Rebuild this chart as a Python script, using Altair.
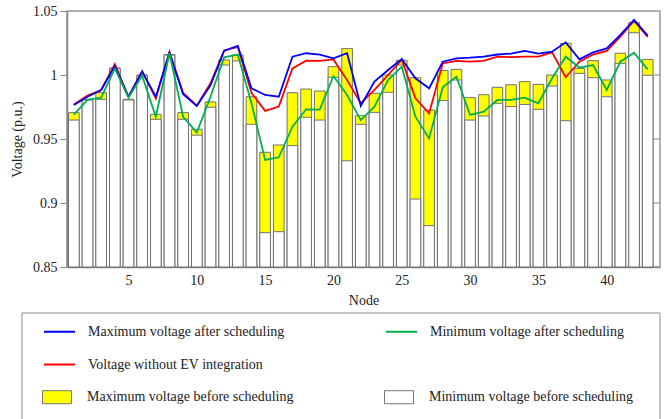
import altair as alt
import pandas as pd

nodes = list(range(1, 44))

max_before = [0.9706, 0.981, 0.9862, 1.0055, 0.981, 1.0, 0.9693, 1.016, 0.9706, 0.9576,
              0.979, 1.0117, 1.0156, 0.983, 0.9396, 0.9453, 0.9862, 0.989, 0.9875, 1.0065,
              1.0206, 0.9682, 0.9857, 1.0, 1.0115, 0.9979, 0.9727, 1.0036, 1.0044, 0.9823,
              0.9846, 0.9904, 0.9924, 0.9948, 0.9927, 1.0, 1.0247, 1.0052, 1.0112, 0.9961,
              1.017, 1.0409, 1.0122]
min_before = [0.9648, 0.9805, 0.981, 1.005, 0.9805, 0.9995, 0.9654, 1.0156, 0.9654, 0.953,
              0.9748, 1.0078, 1.011, 0.9615, 0.8768, 0.8776, 0.9448, 0.967, 0.9648, 0.9982,
              0.933, 0.9615, 0.9708, 0.9865, 1.0078, 0.9031, 0.8823, 0.980, 0.9961, 0.9648,
              0.968, 0.9779, 0.9753, 0.977, 0.9732, 0.9914, 0.9643, 1.0013, 0.9979, 0.983,
              1.0091, 1.033, 0.9998]
max_after = [0.9766, 0.983, 0.9883, 1.007, 0.983, 1.0026, 0.983, 1.0174, 0.985, 0.9758,
             0.992, 1.019, 1.0227, 0.9896, 0.9844, 0.983, 1.0143, 1.017, 1.016, 1.013,
             1.017, 0.9758, 0.9948, 1.0039, 1.0125, 0.9974, 0.9896, 1.0104, 1.013, 1.0135,
             1.0143, 1.016, 1.0167, 1.0188, 1.0167, 1.0182, 1.0255, 1.0122, 1.0177, 1.0208,
             1.0313, 1.043, 1.0307]
no_ev = [0.977, 0.984, 0.9883, 1.0086, 0.983, 1.003, 0.9816, 1.018, 0.986, 0.976,
         0.9935, 1.019, 1.022, 0.986, 0.972, 0.9753, 1.0052, 1.0112, 1.011, 1.0122,
         0.996, 0.9779, 0.9883, 1.0, 1.012, 0.9818, 0.970, 1.009, 1.011, 1.0104,
         1.011, 1.0143, 1.014, 1.0143, 1.0143, 1.0177, 0.9982, 1.0104, 1.016, 1.0188,
         1.030, 1.0425, 1.0297]
min_after = [0.969, 0.9805, 0.9823, 1.005, 0.9823, 0.9995, 0.9674, 1.017, 0.9674, 0.955,
             0.983, 1.0138, 1.016, 0.978, 0.9336, 0.9357, 0.9596, 0.9732, 0.973, 0.9992,
             0.9844, 0.9648, 0.9753, 0.9961, 1.0065, 0.9674, 0.9505, 0.9904, 0.9987, 0.9688,
             0.9714, 0.9805, 0.9805, 0.9823, 0.9779, 0.9974, 1.0143, 1.0057, 1.0078, 0.9883,
             1.0104, 1.0174, 1.0044]

y_ticks = [0.85, 0.9, 0.95, 1.0, 1.05]
right_ticks = [0.9, 0.95, 1.0]
x_ticks = [5, 10, 15, 20, 25, 30, 35, 40]

line_names = ["Maximum voltage after scheduling", "Minimum voltage after scheduling",
              "Voltage without EV integration"]
line_colors = ["#0000ff", "#00b050", "#ff0000"]
bar_names = ["Maximum voltage before scheduling", "Minimum voltage before scheduling"]
bar_fills = ["#ffff00", "#ffffff"]

W, H = 593, 256
FONT = "Liberation Serif"

bars = pd.DataFrame({
    "node": nodes * 2,
    "value": max_before + min_before,
    "series": [bar_names[0]] * len(nodes) + [bar_names[1]] * len(nodes),
})
lines = pd.DataFrame({
    "node": nodes * 3,
    "value": max_after + min_after + no_ev,
    "series": [line_names[0]] * len(nodes) + [line_names[1]] * len(nodes) + [line_names[2]] * len(nodes),
})

x_scale = alt.Scale(domain=[0.5, 43.9], nice=False, zero=False)
y_scale = alt.Scale(domain=[0.85, 1.05], nice=False, zero=False)

axis_common = dict(labelFont=FONT, labelFontSize=14, labelColor="#222222",
                   titleFont=FONT, titleFontSize=14, titleFontWeight="normal",
                   titleColor="#222222", grid=False)
x_axis = alt.Axis(values=x_ticks, ticks=False, labelPadding=6,
                  titleY=33, titleBaseline="middle", **axis_common)
y_axis = alt.Axis(values=y_ticks, format="~g", tickSize=7, labelPadding=3,
                  titleX=-50, titleY=H / 2, titleAlign="center", titleBaseline="middle",
                  **axis_common)

legend_common = dict(title=None, orient="none", columns=2, direction="horizontal", padding=0,
                     labelFont=FONT, labelFontSize=14, labelColor="#222222", labelLimit=400)
line_legend = alt.Legend(legendX=-24, legendY=304, columnPadding=97, rowPadding=9,
                         symbolType="stroke", symbolSize=961, symbolStrokeWidth=2,
                         labelOffset=12, **legend_common)
bar_legend = alt.Legend(legendX=-25, legendY=371, columnPadding=88,
                        symbolType="M-1,-0.45L1,-0.45L1,0.45L-1,0.45Z",
                        symbolSize=841, symbolStrokeColor="#777777", symbolStrokeWidth=1,
                        symbolOpacity=1, labelOffset=15, **legend_common)

X_TITLE = "Node"
Y_TITLE = "Voltage (p.u.)"

box = alt.Chart(pd.DataFrame({"k": [0]})).mark_rect(
    fill="transparent", stroke="#8a8a8a", strokeWidth=1
).encode(x=alt.value(-45), x2=alt.value(W), y=alt.value(302), y2=alt.value(440))

bar_layer = alt.Chart(bars).transform_calculate(
    x0="datum.node - 0.39", x1="datum.node + 0.39"
).mark_bar(stroke="#707070", strokeWidth=1, opacity=1).encode(
    x=alt.X("x0:Q", scale=x_scale, axis=x_axis, title=X_TITLE),
    x2="x1:Q",
    y=alt.Y("value:Q", scale=y_scale, axis=y_axis, title=Y_TITLE),
    y2=alt.datum(0.85),
    fill=alt.Fill("series:N", scale=alt.Scale(domain=bar_names, range=bar_fills), legend=bar_legend),
)


def line_layer(name):
    return alt.Chart(lines).transform_filter(alt.datum.series == name).mark_line(
        strokeWidth=1.8
    ).encode(
        x=alt.X("node:Q", scale=x_scale, axis=x_axis, title=X_TITLE),
        y=alt.Y("value:Q", scale=y_scale, axis=y_axis, title=Y_TITLE),
        color=alt.Color("series:N", scale=alt.Scale(domain=line_names, range=line_colors),
                        legend=line_legend),
    )


rticks = alt.Chart(pd.DataFrame({"v": right_ticks})).mark_rule(color="#888888").encode(
    y=alt.Y("v:Q", scale=y_scale, axis=y_axis, title=Y_TITLE),
    x=alt.value(W - 6), x2=alt.value(W),
)

chart = alt.layer(
    box, bar_layer, line_layer(line_names[2]), line_layer(line_names[0]),
    line_layer(line_names[1]), rticks
).properties(
    width=W, height=H,
    padding={"left": 67, "top": 11, "right": 9, "bottom": 152},
    autosize=alt.AutoSizeParams(type="none"),
).configure(font=FONT, background="white").configure_view(
    stroke="#999999", strokeWidth=1.5
).configure_axis(
    domainColor="#888888", tickColor="#888888", domainWidth=1.5
)

chart.save("out.html", embed_options={"renderer": "svg", "actions": False})
